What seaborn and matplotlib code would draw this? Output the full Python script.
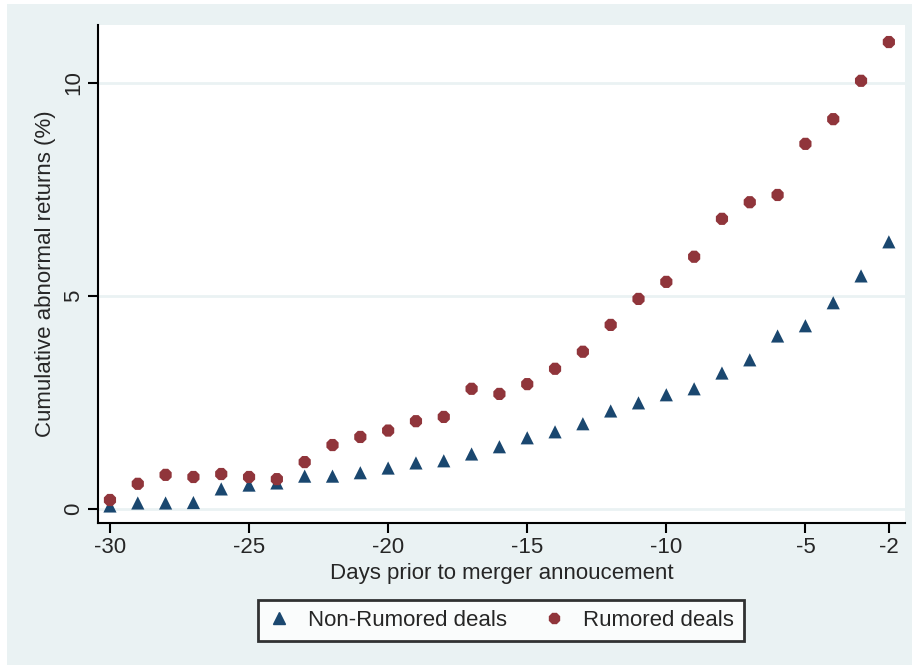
import numpy as np
import pandas as pd
import seaborn as sns
import matplotlib.pyplot as plt
from matplotlib.patches import Rectangle

days = list(range(-30, -1))
non_rumored = [0.07, 0.14, 0.14, 0.15, 0.47, 0.56, 0.61, 0.77, 0.77, 0.85,
               0.96, 1.08, 1.13, 1.29, 1.46, 1.67, 1.81, 2.00, 2.30, 2.49,
               2.68, 2.82, 3.19, 3.50, 4.06, 4.30, 4.84, 5.47, 6.27]
rumored = [0.21, 0.59, 0.80, 0.75, 0.82, 0.75, 0.70, 1.10, 1.50, 1.69,
           1.84, 2.06, 2.16, 2.82, 2.70, 2.93, 3.29, 3.69, 4.32, 4.93,
           5.33, 5.92, 6.81, 7.20, 7.37, 8.57, 9.15, 10.05, 10.96]
series = ["Non-Rumored deals", "Rumored deals"]
x_ticks = [-30, -25, -20, -15, -10, -5, -2]
y_ticks = [0, 5, 10]

df = pd.DataFrame({
    "day": days * 2,
    "car": non_rumored + rumored,
    "group": [series[0]] * len(days) + [series[1]] * len(days),
})

sns.set_style("white")
plt.rcParams["font.family"] = ["Liberation Sans", "DejaVu Sans"]
plt.rcParams["axes.unicode_minus"] = False

bg = "#EAF2F3"
colors = {series[0]: "#1A476F", series[1]: "#90353B"}
markers = {series[0]: "^", series[1]: "8"}
fs = 16

fig = plt.figure(figsize=(9.17, 6.68), dpi=100, facecolor="white")
fig.patches.append(Rectangle((7 / 917, 3 / 668), 905 / 917, 661 / 668,
                             transform=fig.transFigure, facecolor=bg,
                             edgecolor="none", zorder=-1))
ax = fig.add_axes([98 / 917, 1 - 523 / 668, 807 / 917, 498 / 668])
ax.set_facecolor("white")

sns.scatterplot(data=df, x="day", y="car", hue="group", style="group",
                palette=colors, markers=markers, s=90, edgecolor="none",
                ax=ax, legend=False, zorder=3)

ax.set_xlim(-30.43, -1.42)
ax.set_ylim(-0.33, 11.36)
ax.set_xticks(x_ticks)
ax.set_xticklabels([str(v) for v in x_ticks])
ax.set_yticks(y_ticks)
ax.set_yticklabels([str(v) for v in y_ticks], rotation=90, va="center")
ax.tick_params(axis="both", direction="out", length=7, width=1.5,
               color="black", labelsize=fs, pad=3, left=True, bottom=True)
ax.grid(axis="y", color=bg, linewidth=2)
ax.grid(axis="x", visible=False)
for side in ["top", "right"]:
    ax.spines[side].set_visible(False)
for side in ["left", "bottom"]:
    ax.spines[side].set_color("black")
    ax.spines[side].set_linewidth(1.5)

ax.set_xlabel("Days prior to merger annoucement", fontsize=fs, labelpad=4)
ax.set_ylabel("Cumulative abnormal returns (%)", fontsize=fs, labelpad=5)

handles = [plt.Line2D([], [], linestyle="none", marker=markers[s],
                      color=colors[s], markersize=8) for s in series]
leg = fig.legend(handles, series, loc="center",
                 bbox_to_anchor=(501 / 917, 1 - 620 / 668), ncol=2,
                 fontsize=fs, frameon=True, fancybox=False,
                 handletextpad=0.8, columnspacing=1.6, borderpad=0.45,
                 handlelength=1.0)
leg.get_frame().set_edgecolor("black")
leg.get_frame().set_linewidth(2)
leg.get_frame().set_facecolor("white")

fig.savefig("out.png", dpi=100, facecolor="white")
